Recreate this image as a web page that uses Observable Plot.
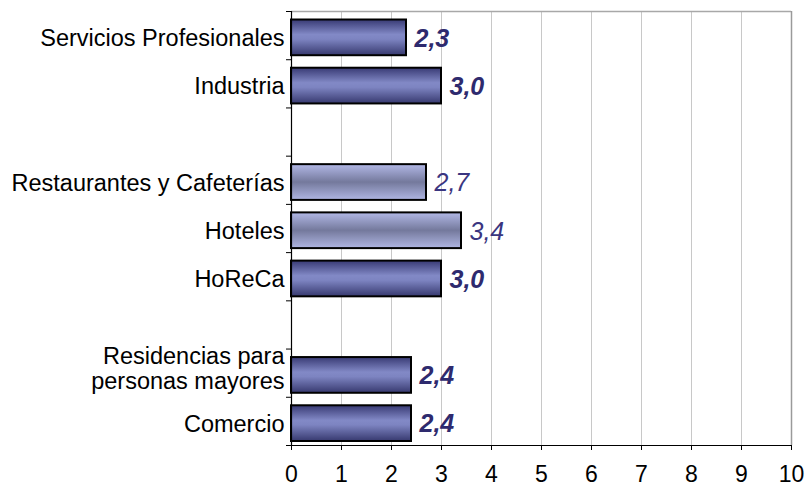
<!DOCTYPE html>
<html><head><meta charset="utf-8">
<script src="https://cdn.jsdelivr.net/npm/d3@7"></script>
<script src="https://cdn.jsdelivr.net/npm/@observablehq/plot@0.6"></script>
<style>body{margin:0;background:#fff;} svg{display:block;}</style>
</head><body><div id="chart"></div>
<script>
// Row order, top to bottom ("" = empty spacer row)
const rows = ["Servicios Profesionales","Industria","","Restaurantes y Cafeterías","Hoteles","HoReCa","","Residencias para\npersonas mayores","Comercio"];
const categories = ["Servicios Profesionales","Industria","Restaurantes y Cafeterías","Hoteles","HoReCa","Residencias para\npersonas mayores","Comercio"];
const values = [2.3, 3.0, 2.7, 3.4, 3.0, 2.4, 2.4];
const lightBars = ["Restaurantes y Cafeterías","Hoteles"];
const xTicks = [0,1,2,3,4,5,6,7,8,9,10];

const data = categories.map((c, i) => ({category: c, value: values[i], row: rows.indexOf(c), light: lightBars.includes(c)}));
const fmt = v => v.toFixed(1).replace(".", ",");
const dark = data.filter(d => !d.light), light = data.filter(d => d.light);
const single = data.filter(d => !d.category.includes("\n")), multi = data.filter(d => d.category.includes("\n"));
const boundaries = d3.range(rows.length + 1);

const barOpts = {x1: d => 0, x2: "value", y1: "row", y2: d => d.row + 1, insetTop: 8.5, insetBottom: 4, stroke: "#000", strokeWidth: 2};
const labelColor = "#2e2a6e";

const chart = Plot.plot({
  width: 809, height: 488,
  marginLeft: 291, marginRight: 18, marginTop: 11, marginBottom: 43,
  style: {fontFamily: "'Liberation Sans', Arial, sans-serif", background: "#fff", color: "#000"},
  x: {type: "linear", domain: [0, 10], label: null},
  y: {type: "linear", domain: [0, rows.length], reverse: true, label: null},
  marks: [
    Plot.gridX(xTicks, {stroke: "#c8c8c8", strokeOpacity: 1}),
    Plot.ruleY([0], {stroke: "#a8a8a8", strokeWidth: 1.5}),
    Plot.ruleX([10], {stroke: "#9a9a9a", strokeWidth: 1.5}),
    Plot.rect(dark, {...barOpts, fill: "url(#gradDark)"}),
    Plot.rect(light, {...barOpts, fill: "url(#gradLight)"}),
    Plot.ruleX([0], {stroke: "#000", strokeWidth: 1.2}),
    Plot.ruleY([rows.length], {stroke: "#000", strokeWidth: 1.2}),
    Plot.axisY(boundaries, {tickSize: 5, tickFormat: () => "", stroke: "#000"}),
    Plot.axisX(xTicks, {tickSize: 5, tickPadding: 15, fontSize: 23, stroke: "#000", fill: "#000"}),
    Plot.text(single, {frameAnchor: "left", y: d => d.row + 0.5, text: "category", textAnchor: "end", dx: -7, dy: 3, fontSize: 23.5, fill: "#000"}),
    Plot.text(multi, {frameAnchor: "left", y: d => d.row + 0.5, text: "category", textAnchor: "end", dx: -7, dy: -5, lineHeight: 1.1, fontSize: 23.5, fill: "#000"}),
    Plot.text(dark, {x: "value", y: d => d.row + 0.5, text: d => fmt(d.value), textAnchor: "start", dx: 8, dy: 3, fontSize: 25, fontWeight: "bold", fontStyle: "italic", fill: labelColor}),
    Plot.text(light, {x: "value", y: d => d.row + 0.5, text: d => fmt(d.value), textAnchor: "start", dx: 8, dy: 3, fontSize: 25, fontStyle: "italic", fill: "#3a3580"})
  ]
});

const defs = d3.select(chart).insert("defs", ":first-child");
const gd = defs.append("linearGradient").attr("id", "gradDark").attr("x1", 0).attr("y1", 0).attr("x2", 0).attr("y2", 1);
[[0, "#383a74"], [0.42, "#8289c6"], [0.55, "#7d84c1"], [1, "#37396f"]].forEach(([o, c]) => gd.append("stop").attr("offset", o).attr("stop-color", c));
const gl = defs.append("linearGradient").attr("id", "gradLight").attr("x1", 0).attr("y1", 0).attr("x2", 0).attr("y2", 1);
[[0, "#b2b8e6"], [0.5, "#74799c"], [1, "#b0b6e3"]].forEach(([o, c]) => gl.append("stop").attr("offset", o).attr("stop-color", c));

document.getElementById("chart").appendChild(chart);
</script>
</body></html>
